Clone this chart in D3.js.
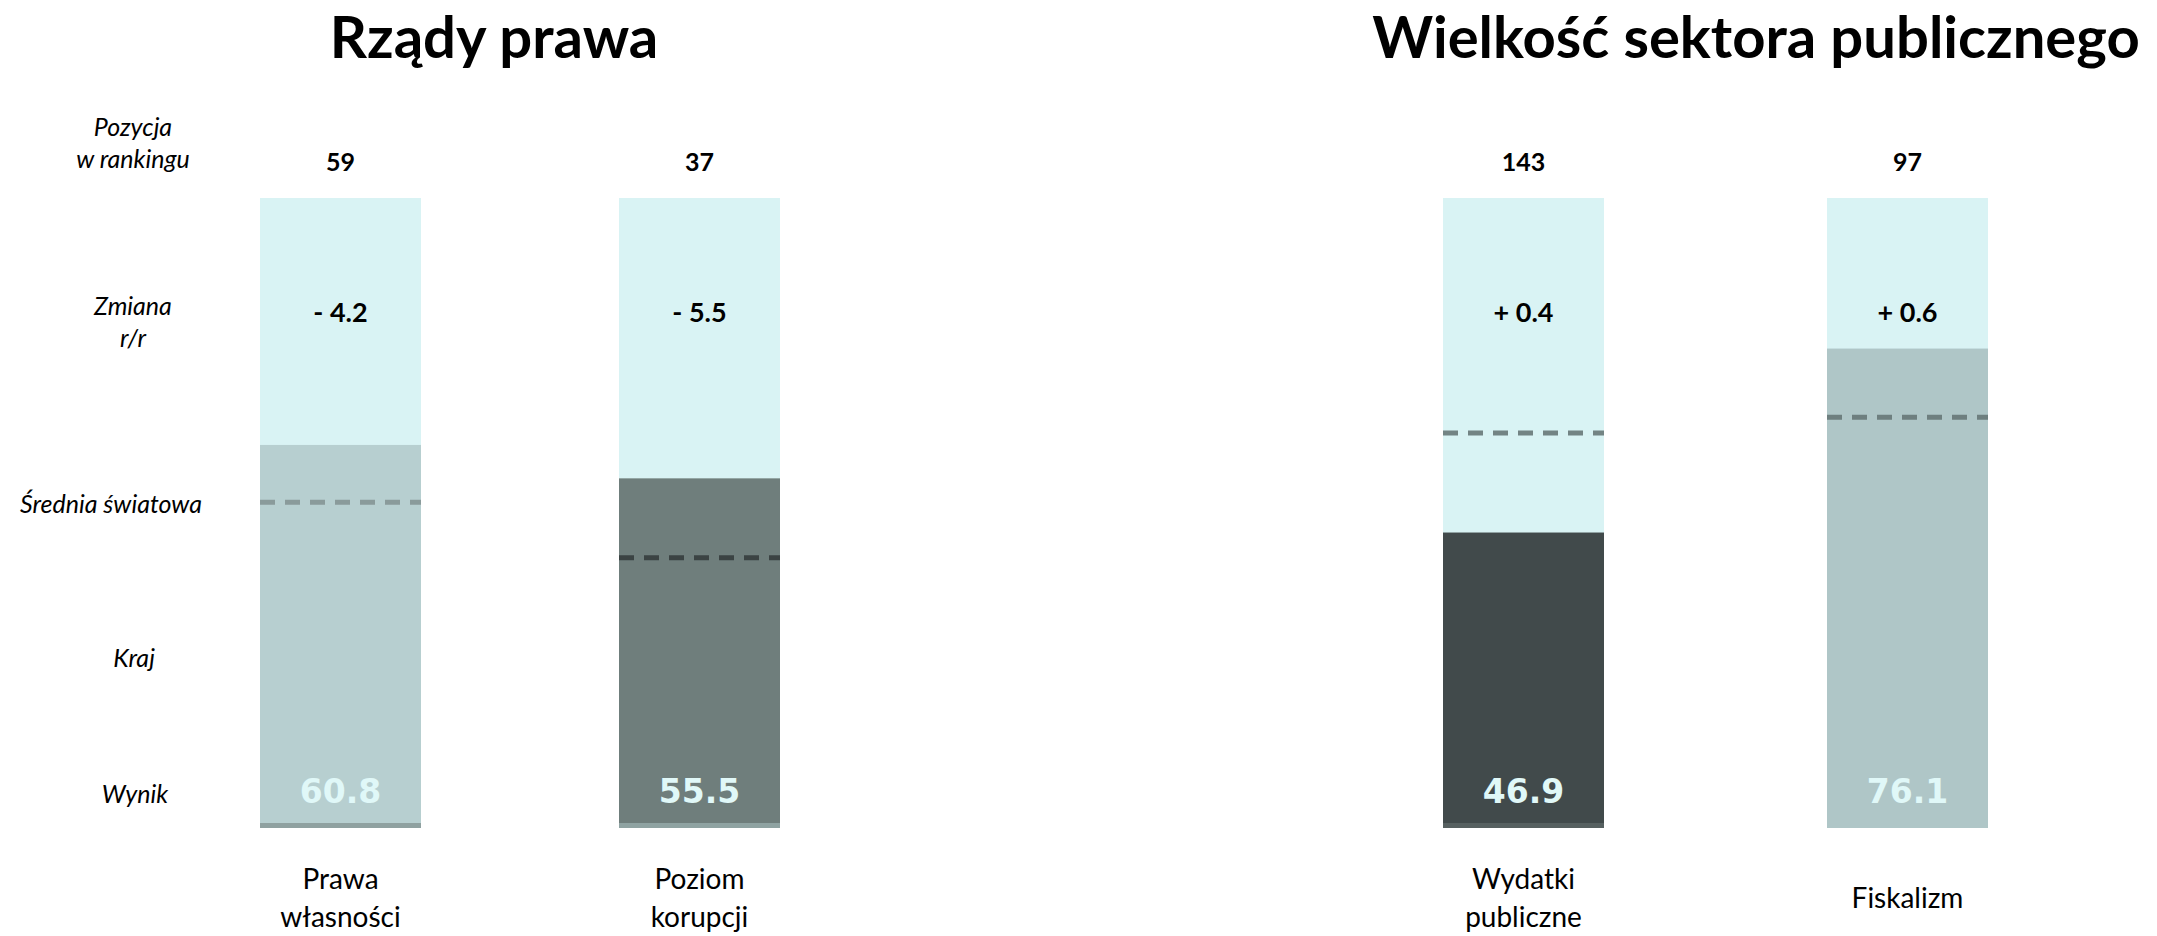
<!DOCTYPE html>
<html>
<head>
<meta charset="utf-8">
<script src="https://cdn.jsdelivr.net/npm/d3@7"></script>
<style>
  html, body { margin: 0; padding: 0; background: #ffffff; }
  svg { display: block; }
</style>
</head>
<body>
<svg id="chart" width="2157" height="936"></svg>
<script>
// ---------------- DATA ----------------
const groups = ["Rządy prawa", "Wielkość sektora publicznego"];
const categories = ["Prawa własności", "Poziom korupcji", "Wydatki publiczne", "Fiskalizm"];
const categoryGroup = ["Rządy prawa", "Rządy prawa", "Wielkość sektora publicznego", "Wielkość sektora publicznego"];
const categoryLines = [["Prawa", "własności"], ["Poziom", "korupcji"], ["Wydatki", "publiczne"], ["Fiskalizm"]];
const scores = [60.8, 55.5, 46.9, 76.1];          // Wynik (kraj)
const worldAverage = [51.7, 42.9, 62.7, 65.2];    // Średnia światowa
const ranks = [59, 37, 143, 97];                  // Pozycja w rankingu
const changes = [-4.2, -5.5, 0.4, 0.6];           // Zmiana r/r
const rowLabels = [["Pozycja", "w rankingu"], ["Zmiana", "r/r"], ["Średnia światowa"], ["Kraj"], ["Wynik"]];
const scoreDomain = [0, 100];

// ---------------- STYLE / LAYOUT ----------------
const W = 2157, H = 936;
const colLight = "#d9f3f4";
const scoreColors = ["#b7cfd0", "#6f7e7c", "#414a4b", "#afc6c7"];
const dashColors = ["#8a9b9b", "#3b4343", "#738484", "#6e7f7f"];
const stripColors = ["#8fa1a0", "#8fa3a2", "#566060", null];
const groupExtent = { "Rządy prawa": [260, 780], "Wielkość sektora publicznego": [1443, 1988] };
const titleX = { "Rządy prawa": 494, "Wielkość sektora publicznego": 1756 };
const BAR_W = 161;
const y = d3.scaleLinear().domain(scoreDomain).range([828, 198]);

const svg = d3.select("#chart");

// x positions: one band scale per group
const xScales = {};
groups.forEach(g => {
  const cats = categories.filter((c, i) => categoryGroup[i] === g);
  const [a, b] = groupExtent[g];
  const span = b - a;
  const pad = 1 - BAR_W / (span - BAR_W);
  xScales[g] = d3.scaleBand().domain(cats).range([a, b]).paddingInner(pad).paddingOuter(0);
});
const xLeft = i => xScales[categoryGroup[i]](categories[i]);
const bw = i => xScales[categoryGroup[i]].bandwidth();
const xMid = i => xLeft(i) + bw(i) / 2;

const idx = d3.range(categories.length);

// titles
svg.selectAll("text.title").data(groups).join("text")
  .attr("class", "title")
  .attr("x", g => titleX[g]).attr("y", 58)
  .attr("text-anchor", "middle")
  .style("font-family", "Lato, 'Open Sans', sans-serif")
  .style("font-weight", 700).style("font-size", "58px").style("fill", "#000")
  .text(g => g);

// background full columns (0-100)
svg.selectAll("rect.bg").data(idx).join("rect")
  .attr("class", "bg")
  .attr("x", i => xLeft(i)).attr("width", i => bw(i))
  .attr("y", y(scoreDomain[1])).attr("height", y(scoreDomain[0]) - y(scoreDomain[1]))
  .attr("fill", colLight);

// country score bars
svg.selectAll("rect.score").data(idx).join("rect")
  .attr("class", "score")
  .attr("x", i => xLeft(i)).attr("width", i => bw(i))
  .attr("y", i => y(scores[i])).attr("height", i => y(0) - y(scores[i]))
  .attr("fill", i => scoreColors[i]);

// bottom strips
svg.selectAll("rect.strip").data(idx.filter(i => stripColors[i])).join("rect")
  .attr("class", "strip")
  .attr("x", i => xLeft(i)).attr("width", i => bw(i))
  .attr("y", y(0) - 5).attr("height", 5)
  .attr("fill", i => stripColors[i]);

// world average dashed lines
svg.selectAll("line.avg").data(idx).join("line")
  .attr("class", "avg")
  .attr("x1", i => xLeft(i)).attr("x2", i => xLeft(i) + bw(i))
  .attr("y1", i => y(worldAverage[i])).attr("y2", i => y(worldAverage[i]))
  .attr("stroke", i => dashColors[i]).attr("stroke-width", 5)
  .attr("stroke-dasharray", "15 10");

// score labels
svg.selectAll("text.scoreLbl").data(idx).join("text")
  .attr("class", "scoreLbl")
  .attr("x", i => xMid(i)).attr("y", y(0) - 25)
  .attr("text-anchor", "middle")
  .style("font-family", "'DejaVu Sans', sans-serif")
  .style("font-weight", 700).style("font-size", "33px").style("fill", "#e0f8f8")
  .text(i => d3.format(".1f")(scores[i]));

// rank labels
svg.selectAll("text.rank").data(idx).join("text")
  .attr("class", "rank")
  .attr("x", i => xMid(i)).attr("y", 171)
  .attr("text-anchor", "middle")
  .style("font-family", "Lato, sans-serif")
  .style("font-weight", 700).style("font-size", "25px").style("fill", "#000")
  .text(i => ranks[i]);

// change labels
const fmtChange = v => (v < 0 ? "- " : "+ ") + d3.format(".1f")(Math.abs(v));
svg.selectAll("text.change").data(idx).join("text")
  .attr("class", "change")
  .attr("x", i => xMid(i)).attr("y", 322)
  .attr("text-anchor", "middle")
  .style("font-family", "Lato, sans-serif")
  .style("font-weight", 700).style("font-size", "27px").style("fill", "#000")
  .text(i => fmtChange(changes[i]));

// category labels
const catG = svg.selectAll("text.cat").data(idx).join("text")
  .attr("class", "cat")
  .attr("text-anchor", "middle")
  .style("font-family", "Lato, sans-serif")
  .style("font-weight", 400).style("font-size", "28px").style("fill", "#000");
catG.each(function(i) {
  const lines = categoryLines[i];
  const n = lines.length;
  d3.select(this).selectAll("tspan").data(lines).join("tspan")
    .attr("x", xMid(i))
    .attr("y", (d, k) => 908 + (k - (n - 1) / 2) * 38)
    .text(d => d);
});

// row labels (left column)
const rowPos = [
  { x: 133, y: 136 }, { x: 133, y: 315 }, { x: 111, y: 513 }, { x: 134, y: 667 }, { x: 135, y: 803 }
];
svg.selectAll("text.row").data(rowLabels).join("text")
  .attr("class", "row")
  .attr("text-anchor", "middle")
  .style("font-family", "Lato, sans-serif")
  .style("font-style", "italic").style("font-size", "25px").style("fill", "#000")
  .each(function(lines, r) {
    d3.select(this).selectAll("tspan").data(lines).join("tspan")
      .attr("x", rowPos[r].x)
      .attr("y", (d, k) => rowPos[r].y + k * 32)
      .text(d => d);
  });
</script>
</body>
</html>
